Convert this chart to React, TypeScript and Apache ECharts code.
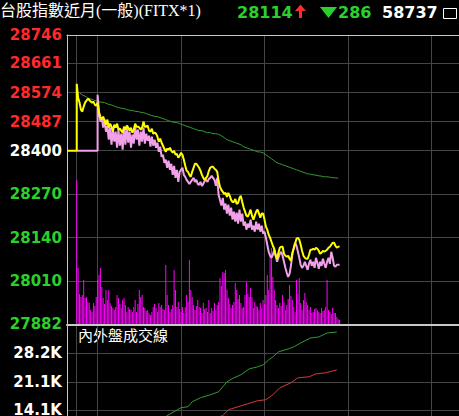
import React, { useEffect, useRef } from "react";
import * as echarts from "echarts";

// Minutes are counted from the 08:45 open; the axis starts a few minutes earlier.
const axisStart = -7;
const axisEnd = 300; // 13:45 close
const prevClose = 28400;

// Price axis reference levels (above / below previous close)
const priceTicks = [27882, 28010, 28140, 28270, 28400, 28487, 28574, 28661, 28746];
// Vertical time lines: 08:45, 09:00, 10:00, 11:00, 12:00, 13:00
const timeLines = [0, 15, 75, 135, 195, 255];
// Cumulative buy/sell volume axis
const flowTicks = [14100, 21150, 28200];
const flowTickLabels = ["14.1K", "21.1K", "28.2K"];

// Futures last price, one value per minute from 08:45
const futuresPrice = [
  28600, 28558, 28544, 28523, 28517, 28532, 28544, 28550, 28555, 28552,
  28547, 28544, 28547, 28538, 28535, 28544, 28514, 28502, 28493, 28502,
  28490, 28478, 28493, 28469, 28481, 28472, 28457, 28478, 28469, 28481,
  28463, 28466, 28460, 28454, 28472, 28463, 28475, 28469, 28460, 28469,
  28454, 28463, 28481, 28472, 28472, 28469, 28463, 28469, 28487, 28472,
  28472, 28475, 28460, 28457, 28466, 28451, 28454, 28451, 28442, 28427,
  28436, 28424, 28415, 28406, 28397, 28406, 28403, 28409, 28400, 28394,
  28400, 28388, 28391, 28379, 28385, 28394, 28388, 28373, 28355, 28340,
  28337, 28328, 28322, 28337, 28349, 28361, 28361, 28355, 28349, 28340,
  28328, 28319, 28313, 28319, 28325, 28340, 28349, 28352, 28352, 28346,
  28343, 28337, 28310, 28292, 28283, 28277, 28271, 28274, 28262, 28274,
  28265, 28253, 28247, 28247, 28256, 28241, 28244, 28259, 28265, 28247,
  28230, 28218, 28206, 28203, 28212, 28224, 28206, 28194, 28206, 28218,
  28224, 28212, 28200, 28212, 28212, 28194, 28173, 28164, 28149, 28140,
  28128, 28116, 28107, 28086, 28077, 28095, 28110, 28113, 28113, 28092,
  28086, 28083, 28086, 28077, 28071, 28095, 28107, 28122, 28137, 28140,
  28134, 28119, 28101, 28086, 28080, 28077, 28077, 28089, 28104, 28104,
  28107, 28104, 28110, 28107, 28101, 28092, 28095, 28101, 28098, 28101,
  28104, 28110, 28113, 28119, 28125, 28125, 28116, 28110, 28113, 28114,
];

// Spot index, one value per minute from 09:00 (minute 15)
const spotStart = 15;
const spotIndex = [
  28567, 28517, 28487, 28499, 28469, 28493, 28457, 28475, 28433, 28469,
  28418, 28463, 28427, 28457, 28409, 28463, 28415, 28451, 28403, 28469,
  28418, 28472, 28424, 28457, 28409, 28448, 28421, 28475, 28433, 28463,
  28415, 28457, 28427, 28469, 28421, 28451, 28430, 28445, 28412, 28442,
  28415, 28433, 28409, 28424, 28397, 28412, 28382, 28388, 28364, 28373,
  28349, 28370, 28343, 28361, 28328, 28355, 28319, 28343, 28307, 28337,
  28343, 28349, 28328, 28322, 28313, 28307, 28301, 28307, 28313, 28319,
  28307, 28313, 28301, 28298, 28307, 28295, 28301, 28310, 28313, 28307,
  28316, 28319, 28325, 28319, 28313, 28295, 28319, 28268, 28253, 28236,
  28259, 28224, 28242, 28212, 28239, 28206, 28230, 28194, 28218, 28188,
  28215, 28182, 28224, 28188, 28212, 28176, 28188, 28164, 28182, 28170,
  28194, 28164, 28176, 28158, 28188, 28164, 28182, 28158, 28176, 28152,
  28158, 28140, 28119, 28098, 28086, 28080, 28089, 28104, 28089, 28068,
  28080, 28092, 28098, 28086, 28068, 28050, 28035, 28023, 28032, 28056,
  28089, 28110, 28125, 28116, 28098, 28080, 28059, 28050, 28056, 28068,
  28056, 28044, 28062, 28074, 28056, 28068, 28050, 28080, 28065, 28047,
  28068, 28056, 28077, 28062, 28050, 28068, 28080, 28062, 28098, 28080,
  28056, 28053, 28059, 28059, 28059,
];

// Slow reference line, sampled every 2 minutes from minute 2
const avgStart = 2;
const avgStep = 2;
const avgPrice = [
  28573, 28567, 28563, 28558, 28555, 28552, 28549, 28546, 28545, 28544,
  28540, 28538, 28535, 28532, 28529, 28527, 28526, 28523, 28521, 28520,
  28518, 28517, 28515, 28514, 28511, 28508, 28505, 28503, 28502, 28499,
  28496, 28493, 28490, 28487, 28485, 28484, 28481, 28478, 28475, 28472,
  28469, 28466, 28463, 28460, 28460, 28457, 28454, 28454, 28451, 28451,
  28449, 28445, 28439, 28433, 28430, 28427, 28424, 28421, 28418, 28412,
  28409, 28406, 28403, 28400, 28397, 28396, 28394, 28388, 28382, 28376,
  28370, 28364, 28361, 28358, 28355, 28352, 28349, 28346, 28343, 28340,
  28337, 28334, 28331, 28330, 28328, 28327, 28325, 28324, 28322, 28322,
  28321, 28319, 28319, 28318,
];

// Contracts traded per minute from 08:45
const volume = [
  2016, 784, 420, 378, 406, 616, 364, 378, 308, 294,
  196, 168, 294, 252, 378, 616, 686, 784, 518, 364,
  280, 476, 336, 476, 294, 252, 224, 196, 238, 406,
  364, 280, 224, 336, 364, 266, 168, 238, 210, 196,
  168, 238, 336, 168, 280, 476, 378, 406, 238, 224,
  182, 196, 154, 126, 168, 238, 280, 224, 168, 294,
  238, 266, 210, 196, 826, 406, 266, 168, 210, 266,
  756, 476, 238, 308, 210, 168, 238, 154, 238, 406,
  308, 896, 476, 378, 266, 196, 252, 336, 238, 224,
  154, 294, 210, 224, 168, 336, 154, 224, 182, 294,
  196, 266, 308, 644, 532, 728, 714, 756, 476, 364,
  280, 224, 266, 308, 574, 476, 350, 406, 294, 224,
  238, 406, 588, 420, 378, 504, 378, 224, 308, 252,
  238, 196, 294, 224, 336, 280, 406, 686, 476, 994,
  1064, 658, 476, 336, 266, 224, 294, 252, 406, 308,
  196, 266, 350, 546, 392, 336, 238, 168, 616, 420,
  644, 294, 196, 336, 434, 308, 266, 196, 238, 154,
  168, 210, 224, 196, 168, 154, 224, 182, 196, 238,
  616, 196, 168, 140, 224, 154, 154, 98, 70, 56,
];

// Cumulative outer (buy) and inner (sell) volume, [minute, contracts]
const outerFlow: [number, number][] = [
  [0, 900], [20, 4400], [40, 7300], [60, 11300], [65, 12740], [70, 13730],
  [75, 14720], [80, 14960], [83, 16200], [89, 17190], [96, 17930], [102, 18670],
  [105, 19910], [108, 21150], [113, 22140], [118, 22880], [124, 24360], [130, 24860],
  [134, 25350], [138, 26590], [141, 27330], [145, 28570], [152, 29310], [156, 29810],
  [161, 30800], [168, 32030], [174, 32280], [180, 33270], [187, 33520],
];
const innerFlow: [number, number][] = [
  [0, 700], [20, 3600], [40, 6200], [60, 8600], [80, 10400], [95, 11700],
  [105, 12740], [109, 14220], [116, 14960], [123, 15700], [130, 16450], [136, 16700],
  [141, 17930], [146, 19660], [154, 20900], [159, 22140], [167, 22390], [172, 23130],
  [179, 23380], [187, 24120],
];

const GRID_COLOR = "#454545";
const BORDER_COLOR = "#c8c8c8";
const UP_RED = "#ff2a2a";
const DOWN_GREEN = "#2bd12b";
const NUM_FONT = '"DejaVu Sans", Verdana, sans-serif';

// The drawing surface is larger than the visible window: the session runs on
// past the right edge and the lower panel continues below the bottom edge.
const VIEW_W = 459;
const VIEW_H = 416;
const SURFACE_W = 520;
const SURFACE_H = 480;

function buildOption() {
  const futuresData: [number, number][] = [
    [axisStart, prevClose],
    [0, prevClose],
    ...futuresPrice.map((v, i) => [i, v] as [number, number]),
  ];
  const spotData: [number, number][] = [
    [0, prevClose],
    [spotStart, prevClose],
    ...spotIndex.map((v, i) => [spotStart + i, v] as [number, number]),
  ];
  const avgData = avgPrice.map((v, i) => [avgStart + i * avgStep, v]);
  const volData = volume.map((v, i) => [i, v]);

  const timeAxis = (gridIndex: number, borderWidth: number) => ({
    type: "value",
    gridIndex,
    min: axisStart,
    max: axisEnd,
    position: "top",
    axisLine: { show: true, onZero: false, lineStyle: { color: BORDER_COLOR, width: borderWidth } },
    axisTick: { show: false, customValues: timeLines },
    axisLabel: { show: false },
    splitLine: { show: true, lineStyle: { color: GRID_COLOR, width: 1 } },
  });

  return {
    backgroundColor: "#000000",
    animation: false,
    grid: [
      { left: 67, top: 35, width: 427, height: 289 },
      { left: 67, top: 325, width: 427, height: 142 },
    ],
    xAxis: [timeAxis(0, 1), timeAxis(1, 2)],
    yAxis: [
      {
        type: "value",
        gridIndex: 0,
        min: priceTicks[0],
        max: priceTicks[priceTicks.length - 1],
        axisLine: { show: true, onZero: false, lineStyle: { color: BORDER_COLOR, width: 1 } },
        axisTick: { show: false, customValues: priceTicks },
        axisLabel: {
          customValues: priceTicks,
          margin: 5,
          fontFamily: NUM_FONT,
          fontWeight: "bold",
          fontSize: 15,
          formatter: (v: number) => String(Math.round(v)),
          color: (v: string | number) => {
            const n = Number(String(v).replace(/,/g, ""));
            return n > prevClose ? UP_RED : n < prevClose ? DOWN_GREEN : "#ffffff";
          },
        },
        splitLine: { show: true, lineStyle: { color: GRID_COLOR, width: 1 } },
      },
      {
        type: "value",
        gridIndex: 0,
        min: 0,
        max: 4046,
        show: false,
        splitLine: { show: false },
      },
      {
        type: "value",
        gridIndex: 1,
        min: 0,
        max: 35250,
        axisLine: { show: true, onZero: false, lineStyle: { color: BORDER_COLOR, width: 1 } },
        axisTick: { show: false, customValues: flowTicks },
        axisLabel: {
          customValues: flowTicks,
          margin: 5,
          fontFamily: NUM_FONT,
          fontWeight: "bold",
          fontSize: 15,
          color: "#ffffff",
          formatter: (v: number) => {
            let best = 0;
            flowTicks.forEach((t, i) => {
              if (Math.abs(t - v) < Math.abs(flowTicks[best] - v)) best = i;
            });
            return flowTickLabels[best];
          },
        },
        splitLine: { show: true, lineStyle: { color: GRID_COLOR, width: 1 } },
      },
    ],
    series: [
      {
        name: "成交量",
        type: "bar",
        xAxisIndex: 0,
        yAxisIndex: 1,
        data: volData,
        barWidth: 1,
        itemStyle: { color: "#ff00ff" },
        silent: true,
      },
      {
        name: "均線",
        type: "line",
        xAxisIndex: 0,
        yAxisIndex: 0,
        data: avgData,
        symbol: "none",
        lineStyle: { color: "#349b34", width: 1 },
        silent: true,
      },
      {
        name: "加權指數",
        type: "line",
        xAxisIndex: 0,
        yAxisIndex: 0,
        data: spotData,
        symbol: "none",
        lineStyle: { color: "#f2a0ea", width: 2 },
        silent: true,
      },
      {
        name: "台指期",
        type: "line",
        xAxisIndex: 0,
        yAxisIndex: 0,
        data: futuresData,
        symbol: "none",
        lineStyle: { color: "#ffff00", width: 2 },
        silent: true,
      },
      {
        name: "外盤",
        type: "line",
        xAxisIndex: 1,
        yAxisIndex: 2,
        data: outerFlow,
        symbol: "none",
        lineStyle: { color: "#2f9c2f", width: 1 },
        silent: true,
      },
      {
        name: "內盤",
        type: "line",
        xAxisIndex: 1,
        yAxisIndex: 2,
        data: innerFlow,
        symbol: "none",
        lineStyle: { color: "#d43a3a", width: 1 },
        silent: true,
      },
    ],
    graphic: [
      {
        type: "text",
        x: 0,
        y: 10,
        style: {
          text: "台股指數近月(一般)(FITX*1)",
          fill: "#ffffff",
          font: '16px "Liberation Serif", "Noto Sans CJK TC", serif',
          verticalAlign: "middle",
        },
      },
      {
        type: "text",
        x: 237,
        y: 12,
        style: { text: "28114", fill: DOWN_GREEN, font: `bold 16px ${NUM_FONT}`, verticalAlign: "middle" },
      },
      { type: "polygon", shape: { points: [[295, 11], [300.5, 4.5], [306, 11]] }, style: { fill: UP_RED } },
      { type: "rect", shape: { x: 299, y: 10, width: 3, height: 8 }, style: { fill: UP_RED } },
      { type: "polygon", shape: { points: [[320, 7], [337, 7], [328.5, 18]] }, style: { fill: DOWN_GREEN } },
      {
        type: "text",
        x: 338,
        y: 12,
        style: { text: "286", fill: DOWN_GREEN, font: `bold 16px ${NUM_FONT}`, verticalAlign: "middle" },
      },
      {
        type: "text",
        x: 382,
        y: 12,
        style: { text: "58737", fill: "#ffffff", font: `bold 16px ${NUM_FONT}`, verticalAlign: "middle" },
      },
      {
        type: "rect",
        shape: { x: 443.5, y: 8.5, width: 13, height: 10 },
        style: { fill: "none", stroke: "#ffffff", lineWidth: 1 },
      },
      {
        type: "text",
        x: 78,
        y: 334,
        style: {
          text: "內外盤成交線",
          fill: "#ffffff",
          font: '15px "Noto Sans CJK TC", sans-serif',
          verticalAlign: "middle",
        },
      },
    ],
  };
}

export default function App() {
  const ref = useRef<HTMLDivElement>(null);
  useEffect(() => {
    if (!ref.current) return;
    const chart = echarts.init(ref.current, undefined, { renderer: "svg" });
    chart.setOption(buildOption() as any);
    return () => chart.dispose();
  }, []);
  return (
    <div
      style={{
        position: "fixed",
        left: 0,
        top: 0,
        width: VIEW_W,
        height: VIEW_H,
        overflow: "hidden",
        background: "#000",
      }}
    >
      <div ref={ref} style={{ width: SURFACE_W, height: SURFACE_H }} />
    </div>
  );
}
